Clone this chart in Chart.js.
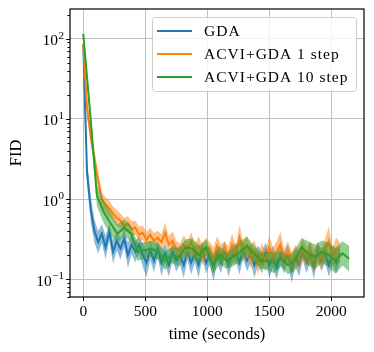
<!DOCTYPE html>
<html>
<head>
<meta charset="utf-8">
<script src="https://cdn.jsdelivr.net/npm/chart.js@4"></script>
<style>
html, body { margin: 0; padding: 0; background: #fff; }
</style>
</head>
<body>
<canvas id="fid-chart" width="374" height="352"></canvas>
<script>
// --- data ---
const evalTime = [
  0, 30, 60, 90, 120, 150, 180, 210, 240, 270,
  300, 330, 360, 390, 420, 450, 480, 510, 540, 570,
  600, 630, 660, 690, 720, 750, 780, 810, 840, 870,
  900, 930, 960, 990, 1020, 1050, 1080, 1110, 1140, 1170,
  1200, 1230, 1260, 1290, 1320, 1350, 1380, 1410, 1440, 1470,
  1500, 1530, 1560, 1590, 1620, 1650, 1680, 1710, 1740, 1770,
  1800, 1830, 1860, 1890, 1920, 1950, 1980, 2010, 2040, 2070
];
const gdaFid = [
  85, 2.2, 0.75, 0.40, 0.29, 0.37, 0.25, 0.39, 0.22, 0.30,
  0.24, 0.32, 0.20, 0.27, 0.22, 0.27, 0.20, 0.16, 0.23, 0.17,
  0.24, 0.16, 0.21, 0.15, 0.22, 0.17, 0.20, 0.15, 0.22, 0.16,
  0.21, 0.15, 0.23, 0.16, 0.20, 0.14, 0.21, 0.16, 0.23, 0.15,
  0.20, 0.22, 0.16, 0.23, 0.17, 0.21, 0.15, 0.20, 0.16, 0.22,
  0.15, 0.19, 0.14, 0.20, 0.16, 0.21, 0.13, 0.19, 0.15, 0.22,
  0.16, 0.21, 0.14, 0.23, 0.17, 0.21, 0.15, 0.20, 0.16, 0.21
];
const gdaSpread = [
  0.10, 0.40, 0.45, 0.40, 0.38, 0.32, 0.40, 0.28, 0.40, 0.32,
  0.36, 0.28, 0.45, 0.32, 0.36, 0.28, 0.40, 0.50, 0.32, 0.40,
  0.28, 0.45, 0.32, 0.40, 0.30, 0.36, 0.32, 0.45, 0.28, 0.40,
  0.32, 0.45, 0.28, 0.36, 0.32, 0.50, 0.30, 0.36, 0.28, 0.40,
  0.32, 0.30, 0.40, 0.28, 0.36, 0.32, 0.45, 0.32, 0.36, 0.30,
  0.45, 0.36, 0.40, 0.32, 0.36, 0.30, 0.45, 0.32, 0.40, 0.28,
  0.36, 0.32, 0.40, 0.28, 0.36, 0.30, 0.40, 0.32, 0.36, 0.30
];
const acvi1Fid = [
  85, 14, 6.0, 3.2, 1.7, 1.0, 0.85, 0.76, 0.66, 0.58,
  0.54, 0.46, 0.50, 0.42, 0.44, 0.36, 0.38, 0.31, 0.36, 0.30,
  0.33, 0.29, 0.38, 0.27, 0.30, 0.24, 0.22, 0.27, 0.23, 0.29,
  0.22, 0.26, 0.20, 0.25, 0.23, 0.18, 0.26, 0.20, 0.24, 0.19,
  0.27, 0.20, 0.33, 0.22, 0.26, 0.19, 0.23, 0.16, 0.21, 0.17,
  0.25, 0.19, 0.22, 0.27, 0.18, 0.22, 0.16, 0.20, 0.18, 0.24,
  0.19, 0.22, 0.17, 0.21, 0.18, 0.23, 0.30, 0.19, 0.24, 0.21
];
const acvi1Spread = [
  0.10, 0.25, 0.28, 0.28, 0.26, 0.22, 0.22, 0.26, 0.22, 0.26,
  0.22, 0.26, 0.22, 0.26, 0.22, 0.26, 0.22, 0.26, 0.22, 0.26,
  0.22, 0.26, 0.35, 0.26, 0.32, 0.26, 0.26, 0.32, 0.26, 0.35,
  0.26, 0.32, 0.35, 0.32, 0.26, 0.38, 0.32, 0.35, 0.26, 0.35,
  0.38, 0.32, 0.45, 0.32, 0.35, 0.38, 0.32, 0.38, 0.32, 0.35,
  0.38, 0.32, 0.35, 0.45, 0.32, 0.35, 0.38, 0.32, 0.35, 0.38,
  0.32, 0.35, 0.38, 0.32, 0.35, 0.38, 0.50, 0.32, 0.38, 0.35
];
const acvi10Time = [
  0, 55, 110, 165, 220, 275, 330, 385, 440, 495,
  550, 605, 660, 715, 770, 825, 880, 935, 990, 1045,
  1100, 1155, 1210, 1265, 1320, 1375, 1430, 1485, 1540, 1595,
  1650, 1705, 1760, 1815, 1870, 1925, 1980, 2035, 2090, 2145
];
const acvi10Fid = [
  115, 12, 1.1, 0.69, 0.50, 0.37, 0.44, 0.37, 0.22, 0.23,
  0.24, 0.22, 0.17, 0.20, 0.19, 0.25, 0.24, 0.20, 0.25, 0.15,
  0.20, 0.17, 0.19, 0.22, 0.26, 0.21, 0.17, 0.17, 0.16, 0.18,
  0.15, 0.17, 0.25, 0.21, 0.19, 0.22, 0.20, 0.17, 0.21, 0.18
];
const acvi10Spread = [
  0.06, 0.25, 0.35, 0.38, 0.38, 0.30, 0.26, 0.26, 0.30, 0.26,
  0.26, 0.26, 0.30, 0.26, 0.30, 0.26, 0.35, 0.30, 0.26, 0.30,
  0.30, 0.26, 0.30, 0.35, 0.30, 0.26, 0.26, 0.30, 0.35, 0.26,
  0.30, 0.35, 0.30, 0.42, 0.42, 0.38, 0.42, 0.45, 0.42, 0.45
];
const xTicks = [0, 500, 1000, 1500, 2000];
const yMajorTicks = [0.1, 1, 10, 100];

const SERIF = '"Liberation Serif", "Times New Roman", serif';

function isDecade(v) {
  const e = Math.log10(v);
  return Math.abs(e - Math.round(e)) < 1e-9;
}

// one series = lower edge, upper edge (filled to lower), mean line
function series(label, color, band, times, values, spread) {
  const pts = f => times.map((t, i) => ({ x: t, y: f(values[i], spread[i]) }));
  const base = { pointRadius: 0, borderWidth: 0, tension: 0 };
  return [
    { ...base, label: label + ' lo', data: pts((v, s) => v / (1 + s)), fill: false, borderColor: 'transparent' },
    { ...base, label: label + ' hi', data: pts((v, s) => v * (1 + s)), fill: '-1', borderColor: 'transparent', backgroundColor: band },
    { ...base, label, data: pts(v => v), fill: false, borderColor: color, borderWidth: 2, isMain: true }
  ];
}

const datasets = [
  ...series('GDA', '#1f77b4', 'rgba(31,119,180,0.5)', evalTime, gdaFid, gdaSpread),
  ...series('ACVI+GDA 1 step', '#ff7f0e', 'rgba(255,127,14,0.5)', evalTime, acvi1Fid, acvi1Spread),
  ...series('ACVI+GDA 10 step', '#2ca02c', 'rgba(44,160,44,0.5)', acvi10Time, acvi10Fid, acvi10Spread)
];
// later series drawn on top
datasets.forEach((d, i) => { d.order = datasets.length - i; });

const frameAndTicks = {
  id: 'frameAndTicks',
  afterDraw(chart) {
    const { ctx, chartArea: a, scales: { x, y } } = chart;
    ctx.save();
    ctx.strokeStyle = '#000';
    ctx.lineWidth = 1;
    y.ticks.forEach(t => {
      const py = Math.round(y.getPixelForValue(t.value)) + 0.5;
      const len = isDecade(t.value) ? 4 : 2.5;
      ctx.beginPath(); ctx.moveTo(a.left, py); ctx.lineTo(a.left - len, py); ctx.stroke();
    });
    x.ticks.forEach(t => {
      const px = Math.round(x.getPixelForValue(t.value)) + 0.5;
      ctx.beginPath(); ctx.moveTo(px, a.bottom); ctx.lineTo(px, a.bottom + 4); ctx.stroke();
    });

    // 10^n labels
    ctx.fillStyle = '#000';
    ctx.textBaseline = 'alphabetic';
    ctx.textAlign = 'right';
    yMajorTicks.forEach(v => {
      const py = y.getPixelForValue(v);
      const exp = String(Math.round(Math.log10(v))).replace('-', '\u2212');
      const right = a.left - 6;
      ctx.font = '11px ' + SERIF;
      const ew = ctx.measureText(exp).width;
      ctx.fillText(exp, right, py);
      ctx.font = '15.5px ' + SERIF;
      ctx.fillText('10', right - ew - 0.5, py + 6.5);
    });

    // frame
    ctx.lineWidth = 1.2;
    ctx.strokeRect(a.left, a.top, a.right - a.left, a.bottom - a.top);

    // legend box
    const bx = 152, by = 17, bw = 204, bh = 74;
    ctx.beginPath();
    ctx.roundRect(bx + 0.5, by + 0.5, bw, bh, 3);
    ctx.fillStyle = 'rgba(255,255,255,0.8)';
    ctx.fill();
    ctx.strokeStyle = '#cccccc';
    ctx.lineWidth = 1;
    ctx.stroke();
    ctx.font = '15.5px ' + SERIF;
    ctx.letterSpacing = '1px';
    ctx.textAlign = 'left';
    ctx.textBaseline = 'middle';
    chart.data.datasets.filter(d => d.isMain).forEach((d, i) => {
      const ry = 31 + i * 23;
      ctx.strokeStyle = d.borderColor;
      ctx.lineWidth = 2;
      ctx.beginPath(); ctx.moveTo(157, ry); ctx.lineTo(192, ry); ctx.stroke();
      ctx.fillStyle = '#000';
      ctx.fillText(d.label, 204, ry + 1);
    });
    ctx.restore();
  }
};

const yTickValues = [];
[0.01, 0.1, 1, 10, 100].forEach(dec => {
  for (let k = 1; k <= 9; k++) {
    const v = +(dec * k).toPrecision(3);
    if (v >= 0.06 && v <= 235) yTickValues.push(v);
  }
});

const tickFont = { family: SERIF, size: 15.5 };
const titleFont = { family: SERIF, size: 16.5 };

new Chart(document.getElementById('fid-chart'), {
  type: 'line',
  data: { datasets },
  options: {
    responsive: false,
    animation: false,
    devicePixelRatio: 1,
    layout: { padding: { top: 9, right: 10, left: 0, bottom: 0 } },
    plugins: { legend: { display: false }, tooltip: { enabled: false } },
    scales: {
      x: {
        type: 'linear',
        min: -107,
        max: 2264,
        afterBuildTicks: s => { s.ticks = xTicks.map(v => ({ value: v })); },
        afterFit: s => { s.height = 55; },
        grid: { color: '#c0c0c0', lineWidth: 1, drawTicks: false },
        border: { display: false },
        ticks: { font: tickFont, color: '#000', padding: 6, maxRotation: 0, callback: v => String(v) },
        title: { display: true, text: 'time (seconds)', font: titleFont, color: '#000', padding: { top: 0, bottom: 7 } }
      },
      y: {
        type: 'logarithmic',
        min: 0.06,
        max: 235,
        afterBuildTicks: s => { s.ticks = yTickValues.map(v => ({ value: v })); },
        afterFit: s => { s.width = 70; },
        grid: {
          color: c => (c.tick && isDecade(c.tick.value)) ? '#c0c0c0' : 'transparent',
          lineWidth: 1,
          drawTicks: false
        },
        border: { display: false },
        ticks: { display: false },
        title: { display: true, text: 'FID', font: titleFont, color: '#000', padding: { top: 7, bottom: 0 } }
      }
    }
  },
  plugins: [frameAndTicks]
});
</script>
</body>
</html>
